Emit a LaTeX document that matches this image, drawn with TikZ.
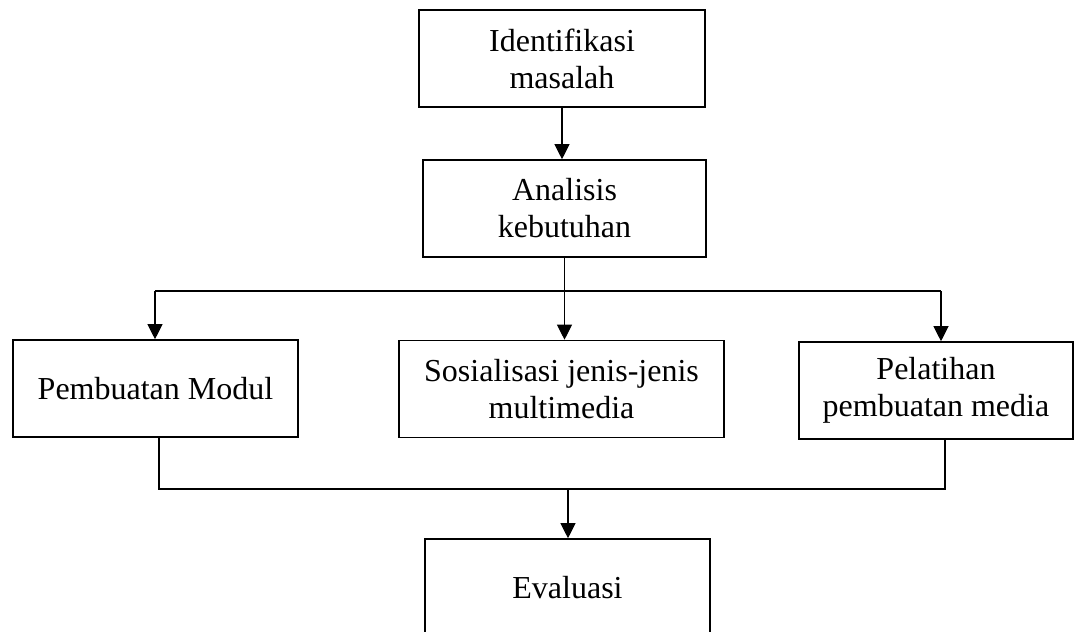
\documentclass[tikz,border=0pt]{standalone}
\usepackage{fontspec}
\setmainfont{Liberation Serif}
\usetikzlibrary{arrows.meta}
\colorlet{stageBorder}{black}
\colorlet{flowLine}{black}

\begin{document}
\begin{tikzpicture}[
  x=1pt,
  y=-1pt,
  stage/.style={
    draw=stageBorder,
    line width=1.6pt,
    inner sep=0pt,
    minimum height=97pt,
    align=center,
    font=\fontsize{32}{37}\selectfont
  },
  flow/.style={
    draw=flowLine,
    line width=1.1pt
  },
  flow arrow/.style={
    flow,
    -{Triangle[width=15pt,length=15pt]}
  }
]
\useasboundingbox (0,0) rectangle (1074,632);
\node[stage,minimum width=286pt] (ident) at (562,58.5) {Identifikasi\\masalah};
\node[stage,minimum width=283pt] (anal) at (564.5,208.5) {Analisis\\kebutuhan};
\node[stage,minimum width=285pt] (modul) at (155.5,388.5) {Pembuatan Modul};
\node[stage,minimum width=325pt] (sosial) at (561.5,389) {Sosialisasi jenis-jenis\\multimedia};
\node[stage,minimum width=274pt] (latih) at (936,390.5) {Pelatihan\\pembuatan media};
\node[stage,minimum width=285pt] (eval) at (567.5,587.5) {Evaluasi};
\draw[flow arrow] (ident.south) -- (ident.south |- anal.north);
\foreach \n/\x in {modul/155,sosial/564.5,latih/941}
  \coordinate (in-\n) at (\x,291);
\draw[flow] (anal.south) -- (in-sosial);
\draw[flow] (in-modul) -- (in-latih);
\foreach \n in {modul,sosial,latih}
  \draw[flow arrow] (in-\n) -- (in-\n |- \n.north);
\coordinate (out-modul) at (159,489);
\coordinate (out-latih) at (945,489);
\coordinate (join) at (568,489);
\draw[flow] (out-modul |- modul.south) -- (out-modul) -- (out-latih) -- (out-latih |- latih.south);
\draw[flow arrow] (join) -- (join |- eval.north);
\end{tikzpicture}
\end{document}
